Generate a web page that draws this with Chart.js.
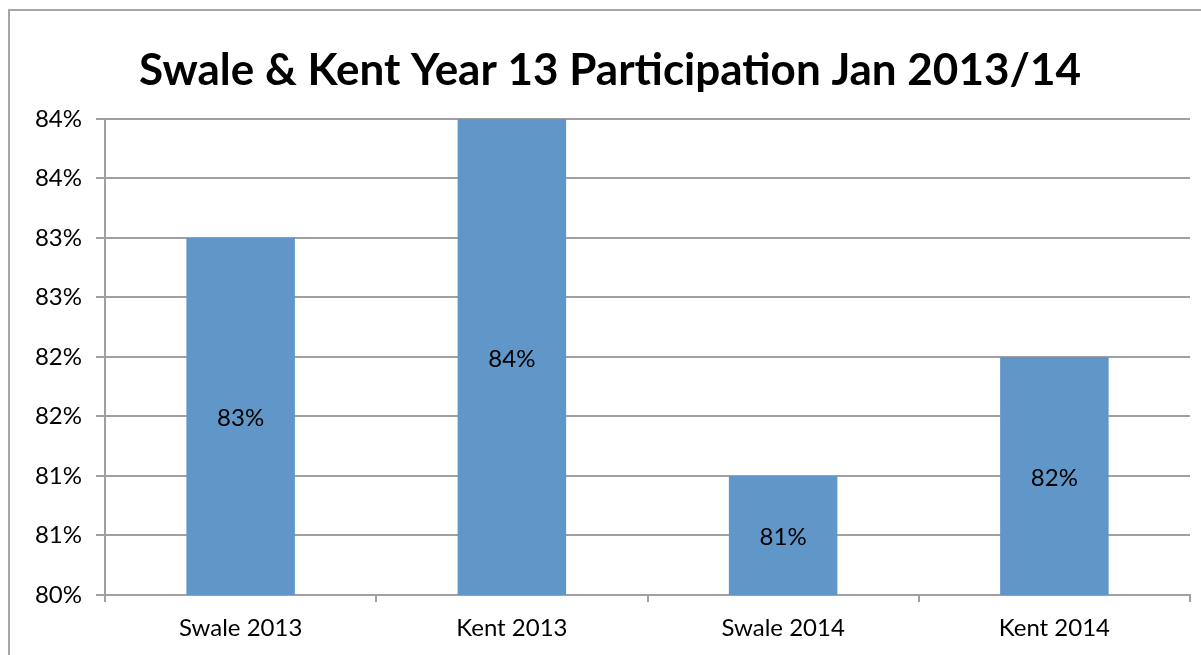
<!DOCTYPE html>
<html>
<head>
<meta charset="utf-8">
<script src="https://cdn.jsdelivr.net/npm/chart.js@4.4.0/dist/chart.umd.min.js"></script>
<style>
  html, body { margin: 0; padding: 0; background: #fff; }
  #frame {
    position: absolute; left: 8px; top: 9px;
    width: 1210px; height: 660px;
    border: 2px solid #a6a6a6; box-sizing: border-box;
  }
  #myChart { position: absolute; left: 0; top: 0; }
</style>
</head>
<body>
<div id="frame"></div>
<canvas id="myChart" width="1201" height="655"></canvas>
<script>
const categories = ['Swale 2013', 'Kent 2013', 'Swale 2014', 'Kent 2014'];
const participation = [83, 84, 81, 82];
const yTicks = [80, 80.5, 81, 81.5, 82, 82.5, 83, 83.5, 84];

const gridGrey = '#a0a0a0';
const barBlue = '#6196c8';

// writes the rounded value in the middle of each bar
const barValues = {
    id: 'barValues',
    afterDraw(chart) {
        const c = chart.ctx;
        const xs = chart.scales.x;
        const ys = chart.scales.y;
        c.save();
        c.font = '24px Lato, sans-serif';
        c.fillStyle = '#000000';
        c.textAlign = 'center';
        c.textBaseline = 'middle';
        participation.forEach((v, i) => {
            const x = xs.getPixelForValue(i);
            const mid = (ys.getPixelForValue(v) + ys.getPixelForValue(ys.min)) / 2;
            c.fillText(Math.round(v) + '%', x, mid + 2);
        });
        c.restore();
    }
};

const ctx = document.getElementById('myChart');
const config = {
    type: 'bar',
    data: {
        labels: categories,
        datasets: [{
            label: 'Participation',
            data: participation,
            backgroundColor: barBlue,
            borderWidth: 0,
            barPercentage: 0.8,
            categoryPercentage: 0.5
        }]
    },
    options: {
        responsive: false,
        animation: false,
        layout: { padding: { left: 30, right: 11, top: 0, bottom: 0 } },
        plugins: {
            legend: { display: false },
            tooltip: { enabled: false },
            title: {
                display: true,
                text: 'Swale & Kent Year 13 Participation Jan 2013/14',
                color: '#000',
                font: { family: 'Lato', size: 44, weight: 'bold' },
                padding: { top: 44, bottom: 22 }
            }
        },
        scales: {
            x: {
                grid: {
                    display: true,
                    drawOnChartArea: false,
                    color: gridGrey,
                    lineWidth: 2,
                    tickLength: 7,
                    offset: true
                },
                border: { color: gridGrey, width: 2 },
                ticks: {
                    color: '#000',
                    padding: 12,
                    font: { family: 'Lato', size: 24 }
                },
                afterFit(scale) { scale.height = 60; }
            },
            y: {
                min: 80,
                max: 84,
                afterBuildTicks(scale) {
                    scale.ticks = yTicks.map(v => ({ value: v }));
                },
                grid: { color: gridGrey, lineWidth: 2, tickLength: 9 },
                border: { color: gridGrey, width: 2 },
                ticks: {
                    color: '#000',
                    padding: 14,
                    font: { family: 'Lato', size: 24 },
                    callback: v => Math.round(v) + '%'
                },
                afterFit(scale) { scale.width = 75; }
            }
        }
    },
    plugins: [barValues]
};

chart = new Chart(ctx, config);
</script>
</body>
</html>
